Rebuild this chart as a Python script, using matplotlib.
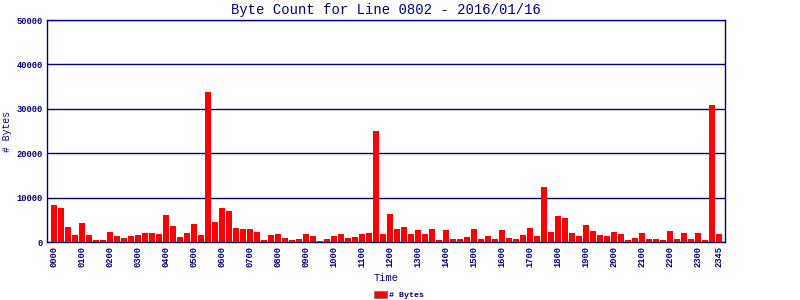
import matplotlib
matplotlib.use("Agg")
import matplotlib.pyplot as plt
from matplotlib.patches import Patch

# byte counts per 15-minute slot
byte_counts = [
    8420, 7740, 3460, 1650, 4360, 1650, 530, 530,
    2330, 1430, 980, 1430, 1650, 2100, 2100, 1880,
    6170, 3680, 1200, 2100, 4140, 1650, 33680, 4590,
    7740, 7070, 3230, 3010, 3010, 2330, 530, 1650,
    1880, 980, 530, 750, 1880, 1430, 300, 750,
    1430, 1880, 980, 1200, 1880, 2100, 24890, 1880,
    6390, 3010, 3460, 1880, 2780, 1880, 3010, 530,
    2780, 750, 750, 1200, 3010, 750, 1430, 750,
    2780, 980, 750, 1650, 3230, 1430, 12480, 2330,
    5940, 5490, 2100, 1430, 3910, 2560, 1650, 1430,
    2330, 1880, 530, 980, 2100, 750, 750, 530,
    2560, 750, 2100, 750, 2100, 530, 30750, 1880,
]
slot_labels = ["%02d%02d" % (h, m) for h in range(24) for m in (0, 15, 30, 45)]
tick_idx = list(range(0, 96, 4)) + [95]
y_ticks = [0, 10000, 20000, 30000, 40000, 50000]

NAVY = "#000080"
MONO = ["Liberation Mono", "DejaVu Sans Mono"]

fig = plt.figure(figsize=(8, 3), dpi=100)
ax = fig.add_axes([47 / 800, 58 / 300, 678 / 800, 222 / 300])

x = list(range(len(byte_counts)))
ax.bar(x, byte_counts, width=0.86, color="#ff0000", zorder=3)

ax.set_xlim(-1, 95.86)
ax.set_ylim(0, 50000)
ax.set_yticks(y_ticks)
ax.set_yticklabels([str(v) for v in y_ticks], family=MONO, fontsize=6.3,
                   fontweight="bold", color=NAVY)
ax.set_xticks(tick_idx)
ax.set_xticklabels([slot_labels[i] for i in tick_idx], rotation=90,
                   family=MONO, fontsize=6.3, fontweight="bold", color=NAVY)
ax.tick_params(length=0, pad=3)

ax.grid(axis="y", color=NAVY, lw=1.0, zorder=1)
for sp in ax.spines.values():
    sp.set_color(NAVY)
    sp.set_linewidth(1.0)

ax.set_title("Byte Count for Line 0802 - 2016/01/16", family=MONO,
             fontsize=10, color=NAVY, pad=4)
ax.set_ylabel("# Bytes", family=MONO, fontsize=7, color=NAVY)
ax.yaxis.set_label_coords(-0.051, 0.5)
ax.set_xlabel("Time", family=MONO, fontsize=7.5, color=NAVY, labelpad=4)

handle = Patch(facecolor="#ff0000", edgecolor="#808080", lw=0.8)
fig.legend([handle], ["# Bytes"], loc="center", bbox_to_anchor=(399 / 800, 1 - 295 / 300),
           frameon=False, handlelength=1.6, handleheight=1.0, handletextpad=0.3,
           prop={"family": MONO, "size": 6, "weight": "bold"}, labelcolor=NAVY,
           borderpad=0)

fig.savefig("out.png", dpi=100)
